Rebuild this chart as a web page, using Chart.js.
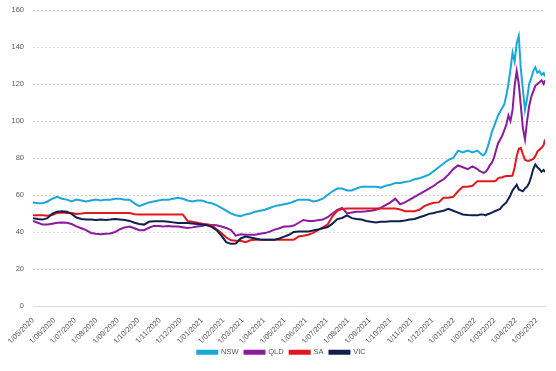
<!DOCTYPE html>
<html>
<head>
<meta charset="utf-8">
<title>Wholesale price by state</title>
<script src="https://cdn.jsdelivr.net/npm/chart.js@4/dist/chart.umd.min.js"></script>
<style>
  html, body { margin: 0; padding: 0; background: #ffffff; }
  #wrap { width: 556px; height: 371px; }
</style>
</head>
<body>
<div id="wrap"><canvas id="stateChart"></canvas></div>
<script>
'use strict';
//** Data */

// weekly readings, then every 3 days from Feb 2022
let dates = [
  '2020-05-01', '2020-05-08', '2020-05-15', '2020-05-22', '2020-05-29',
  '2020-06-05', '2020-06-12', '2020-06-19', '2020-06-26',
  '2020-07-03', '2020-07-10', '2020-07-17', '2020-07-24', '2020-07-31',
  '2020-08-07', '2020-08-14', '2020-08-21', '2020-08-28',
  '2020-09-04', '2020-09-11', '2020-09-18', '2020-09-25',
  '2020-10-02', '2020-10-09', '2020-10-16', '2020-10-23', '2020-10-30',
  '2020-11-06', '2020-11-13', '2020-11-20', '2020-11-27',
  '2020-12-04', '2020-12-11', '2020-12-18', '2020-12-25',
  '2021-01-01', '2021-01-08', '2021-01-15', '2021-01-22', '2021-01-29',
  '2021-02-05', '2021-02-12', '2021-02-19', '2021-02-26',
  '2021-03-05', '2021-03-12', '2021-03-19', '2021-03-26',
  '2021-04-02', '2021-04-09', '2021-04-16', '2021-04-23', '2021-04-30',
  '2021-05-07', '2021-05-14', '2021-05-21', '2021-05-28',
  '2021-06-04', '2021-06-11', '2021-06-18', '2021-06-25',
  '2021-07-02', '2021-07-09', '2021-07-16', '2021-07-23', '2021-07-30',
  '2021-08-06', '2021-08-13', '2021-08-20', '2021-08-27',
  '2021-09-03', '2021-09-10', '2021-09-17', '2021-09-24',
  '2021-10-01', '2021-10-08', '2021-10-15', '2021-10-22', '2021-10-29',
  '2021-11-05', '2021-11-12', '2021-11-19', '2021-11-26',
  '2021-12-03', '2021-12-10', '2021-12-17', '2021-12-24', '2021-12-31',
  '2022-01-07', '2022-01-14', '2022-01-21', '2022-01-28',
  '2022-02-04', '2022-02-07', '2022-02-10', '2022-02-13', '2022-02-16', '2022-02-19',
  '2022-02-22', '2022-02-25', '2022-02-28', '2022-03-03', '2022-03-06', '2022-03-09',
  '2022-03-12', '2022-03-15', '2022-03-18', '2022-03-21', '2022-03-24', '2022-03-27',
  '2022-03-30', '2022-04-02', '2022-04-05', '2022-04-08', '2022-04-11', '2022-04-14',
  '2022-04-17', '2022-04-20', '2022-04-23', '2022-04-26', '2022-04-29', '2022-05-02',
  '2022-05-05', '2022-05-08', '2022-05-11', '2022-05-13'
];

let nswvalues = [
  56, 55.5, 55.5, 56.5, 58, 59, 58, 57.5, 56.5, 57.5,
  57, 56.5, 57, 57.5, 57, 57.5, 57.5, 58, 58, 57.5,
  57.5, 55.5, 54, 55, 56, 56.5, 57, 57.5, 57.5, 58,
  58.5, 58, 57, 56.5, 57, 57, 56, 55.5, 54.5, 53,
  51.5, 50, 49, 48.5, 49.5, 50, 51, 51.5, 52, 53,
  54, 54.5, 55, 55.5, 56.5, 57.5, 57.5, 57.5, 56.5, 57,
  58, 60, 62, 63.5, 63.5, 62.5, 62.5, 63.5, 64.5, 64.5,
  64.5, 64.5, 64, 65, 65.5, 66.5, 66.5, 67, 67.5, 68.5,
  69, 70, 71, 73, 75, 77, 79, 80, 84, 83,
  84, 83,
  84, 83, 82, 81.5, 83, 86, 90, 94, 97, 100,
  103, 105, 107, 109, 114, 120, 128, 137, 132, 142,
  146, 128, 117, 106, 112, 120, 123, 127, 129, 126,
  127, 125, 126, 124
];

let qldvalues = [
  46, 45, 44, 44, 44.5, 45, 45.2, 45, 44.3, 43,
  42, 41, 39.5, 39, 38.8, 39, 39.2, 40, 41.5, 42.5,
  43, 42, 41, 41, 42.3, 43.3, 43.2, 43, 43.2, 43,
  43, 42.6, 42.2, 42.5, 43, 43.3, 44, 43.8, 43.6, 43,
  42.2, 41, 38, 38.8, 38.5, 38.5, 38.5, 39, 39.4, 40.2,
  41.3, 42, 43, 43, 43.5, 45, 46.5, 46, 45.9, 46.3,
  46.7, 48, 50, 52, 53, 50, 50.5, 51, 51, 51.2,
  51.5, 52, 53, 54.5, 56, 58, 55, 56, 57.5, 59,
  60.5, 62, 63.5, 65, 67, 68.5, 71, 74, 76, 75,
  74, 75.5,
  74, 73, 72.5, 72, 72.5, 74, 76, 77.5, 80, 84,
  88, 90, 92, 95, 98, 103, 100, 106, 119, 127,
  120, 108, 96, 90, 100, 108, 113, 116, 119, 120,
  121, 122, 120, 122
];

let savalues = [
  49, 49, 49, 48.8, 49.2, 50.3, 50.6, 50.3, 50.3, 49.8,
  50, 50.3, 50.3, 50.3, 50.3, 50.3, 50.3, 50.3, 50.3, 50.3,
  50.3, 49.6, 49.5, 49.5, 49.5, 49.5, 49.5, 49.5, 49.5, 49.5,
  49.5, 49.5, 46, 45.5, 45, 44.5, 44, 43.5, 41.5, 39.5,
  37, 35.5, 35.3, 35.3, 34.5, 35.5, 35.8, 35.8, 35.8, 35.8,
  35.8, 35.8, 35.8, 35.8, 35.8, 37.6, 38, 38.5, 39.5, 41,
  42.5, 44, 48.5, 51.5, 52.5, 52.7, 52.7, 52.7, 52.7, 52.7,
  52.7, 52.7, 52.7, 52.7, 52.7, 52.7, 52.2, 51.2, 51.2, 51.2,
  52, 54, 55, 55.8, 56, 58.5, 58.5, 59, 62, 64.5,
  64.5, 65,
  67.5, 67.5, 67.5, 67.5, 67.5, 67.5, 67.5, 67.5, 67.5, 67.8,
  69, 69.5, 69.5, 70, 70.3, 70.3, 70.3, 70.5, 75, 81,
  85, 85.5, 82, 79, 78.5, 78.5, 79, 79.5, 81, 83.5,
  84.5, 85.5, 87, 90
];

let vicvalues = [
  47.5, 47, 46.7, 47.5, 50, 51, 51.2, 51, 49.8, 47.8,
  47, 46.7, 46.7, 46.5, 46.7, 46.5, 46.7, 47, 46.8, 46.5,
  46, 45, 44.3, 44, 45.5, 45.8, 45.8, 45.8, 45.5, 45.2,
  44.9, 44.9, 44.9, 44.6, 44.3, 44, 43.6, 42.8, 41, 38,
  34.5, 33.6, 33.8, 36.5, 37.5, 37, 36.5, 36, 35.8, 35.8,
  35.8, 36.5, 37.5, 38.5, 40, 40.3, 40.3, 40.3, 40.8, 41.3,
  42, 42.7, 44.5, 47, 47.6, 49, 47.5, 47, 46.7, 46,
  45.5, 45.2, 45.5, 45.5, 45.8, 45.8, 45.8, 46.2, 46.7, 47,
  48, 48.8, 49.8, 50.3, 51, 51.5, 52.5, 51.5, 50.5, 49.5,
  49.2, 49,
  49, 49.3, 49.5, 49.4, 49, 49.6, 50, 50.5, 51, 51.5,
  52, 52.5, 54, 55, 56, 58, 60, 62.5, 64, 65.5,
  63, 62.5, 62, 63.5, 64.5, 66.5, 70, 74, 76.5, 75,
  74, 72.5, 73.5, 72.5
];

let ticklabels = [
  '1/05/2020', '1/06/2020', '1/07/2020', '1/08/2020', '1/09/2020', '1/10/2020',
  '1/11/2020', '1/12/2020', '1/01/2021', '1/02/2021', '1/03/2021', '1/04/2021',
  '1/05/2021', '1/06/2021', '1/07/2021', '1/08/2021', '1/09/2021', '1/10/2021',
  '1/11/2021', '1/12/2021', '1/01/2022', '1/02/2022', '1/03/2022', '1/04/2022',
  '1/05/2022'
];

let yticks = [0, 20, 40, 60, 80, 100, 120, 140, 160];

//** Helpers */

let starttime = Date.UTC(2020, 4, 1);

function isoday(iso){
  let p = iso.split('-');
  return (Date.UTC(+p[0], +p[1] - 1, +p[2]) - starttime) / 86400000;
}

function labelday(label){
  let p = label.split('/');
  return (Date.UTC(+p[2], +p[1] - 1, +p[0]) - starttime) / 86400000;
}

function makepoints(values){
  let points = [];
  for (let i = 0; i < dates.length; i++){
    points.push({ x: isoday(dates[i]), y: values[i] });
  }
  return points;
}

let tickdays = ticklabels.map(labelday);

function makeline(name, values, colour, order){
  return {
    label: name,
    data: makepoints(values),
    borderColor: colour,
    backgroundColor: colour,
    borderWidth: 2,
    pointRadius: 0,
    tension: 0,
    order: order
  };
}

//** Chart */

Chart.defaults.font.family = "'Liberation Sans', Arial, sans-serif";
Chart.defaults.font.size = 7.5;
Chart.defaults.color = '#595959';

let ctx = document.getElementById('stateChart');

let chartObj = {
  type: 'line',
  data: {
    datasets: [
      makeline('NSW', nswvalues, '#1aa7dc', 3),
      makeline('QLD', qldvalues, '#8c1a9c', 2),
      makeline('SA', savalues, '#e3171c', 1),
      makeline('VIC', vicvalues, '#0e1f50', 0)
    ]
  },
  options: {
    responsive: true,
    maintainAspectRatio: false,
    animation: false,
    devicePixelRatio: 1,
    // left 7 / right 0 keeps the centred legend where the original has it
    layout: { padding: { top: 10, right: 0, bottom: 5, left: 7 } },
    plugins: {
      tooltip: { enabled: false },
      legend: {
        position: 'bottom',
        labels: {
          boxWidth: 20,
          boxHeight: 3,
          padding: 6,
          color: '#595959',
          sort: (a, b) => a.datasetIndex - b.datasetIndex
        }
      }
    },
    scales: {
      x: {
        type: 'linear',
        min: 0,
        max: isoday(dates[dates.length - 1]),
        grid: { display: false },
        border: { display: true, color: '#d9d9d9', width: 1 },
        afterBuildTicks: (scale) => {
          scale.ticks = tickdays.map(v => ({ value: v }));
        },
        afterFit: (scale) => {
          scale.height = 36.5;
          scale.paddingRight = 11; // gap right of the plot
        },
        ticks: {
          autoSkip: false,
          minRotation: 45,
          maxRotation: 45,
          padding: 2,
          callback: (value, index) => ticklabels[index]
        }
      },
      y: {
        min: 0,
        max: 160,
        afterBuildTicks: (scale) => {
          scale.ticks = yticks.map(v => ({ value: v }));
        },
        afterFit: (scale) => { scale.width = 26; },
        border: { display: false, dash: [2, 2] },
        grid: {
          drawTicks: true,
          tickLength: 9,
          tickColor: 'rgba(0,0,0,0)',
          color: (c) => (c.tick && c.tick.value === 0) ? 'rgba(0,0,0,0)' : '#d9d9d9'
        },
        ticks: { padding: 0 }
      }
    }
  }
};

let statechart = new Chart(ctx, chartObj);
</script>
</body>
</html>
